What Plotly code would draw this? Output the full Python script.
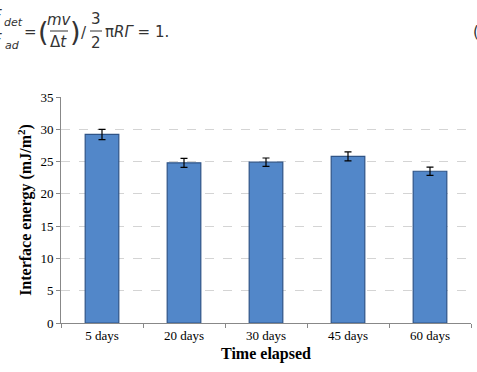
import plotly.graph_objects as go

categories = ["5 days", "20 days", "30 days", "45 days", "60 days"]
energy = [29.2, 24.8, 24.9, 25.8, 23.5]
errors = [0.8, 0.7, 0.65, 0.7, 0.65]
y_ticks = [0, 5, 10, 15, 20, 25, 30, 35]

fig = go.Figure()
fig.add_trace(go.Bar(
    x=categories, y=energy,
    marker=dict(color="#5287c9", line=dict(color="#2f5487", width=1.2)),
    error_y=dict(type="data", array=errors, visible=True, color="black", thickness=1.2, width=3.5),
    width=0.41,
))

serif = "Liberation Serif, Times New Roman, serif"
fig.update_layout(
    width=477, height=372,
    margin=dict(l=61, r=6, t=97, b=49),
    paper_bgcolor="white", plot_bgcolor="white",
    showlegend=False,
    font=dict(family=serif, size=13, color="black"),
    xaxis=dict(
        showline=True, linecolor="#888888", linewidth=1,
        ticks="outside", tickson="boundaries", ticklen=4, tickcolor="#888888",
        tickfont=dict(family=serif, size=13),
        title=dict(text="<b>Time elapsed</b>", font=dict(family=serif, size=16), standoff=6),
    ),
    yaxis=dict(
        range=[0, 35], tickvals=y_ticks,
        showline=True, linecolor="#888888", linewidth=1,
        ticks="outside", ticklen=4, tickcolor="#888888",
        showgrid=True, gridcolor="#d4d4d4", griddash="dash", gridwidth=1,
        zeroline=False,
        tickfont=dict(family=serif, size=13),
        title=dict(text="<b>Interface energy (mJ/m<sup>2</sup>)</b>", font=dict(family=serif, size=16), standoff=4),
    ),
)

# equation text above the chart
ec = "#333333"
eq_font = dict(family="DejaVu Sans, sans-serif", size=15, color=ec)
eq_small = dict(family="DejaVu Sans, sans-serif", size=11, color=ec)
paren = dict(family="DejaVu Sans, sans-serif", size=27, color=ec)

def px(xp):
    return (xp - 61) / (477 - 61 - 6)
def py(yp):
    return (372 - 49 - yp) / (372 - 97 - 49)

def ann(x, y, text, font, xanchor="center"):
    fig.add_annotation(xref="paper", yref="paper", x=px(x), y=py(y), text=text, showarrow=False,
                       font=font, xanchor=xanchor, yanchor="middle")

ann(4, 16, "<i>F</i>", eq_font, "right")
ann(13, 23, "<i>det</i>", eq_small)
ann(4, 40, "<i>F</i>", eq_font, "right")
ann(12, 46, "<i>ad</i>", eq_small)
ann(30, 32, "=", eq_font)
ann(43, 31, "(", paren)
ann(59, 20, "<i>mv</i>", eq_font)
ann(58, 42, "Δ<i>t</i>", eq_font)
ann(75, 31, ")", paren)
ann(84, 33, "/", eq_font)
ann(96, 19, "3", eq_font)
ann(96, 43, "2", eq_font)
ann(103, 32, "π<i>RΓ</i> = 1.", eq_font, "left")
ann(471, 32, "(", eq_font, "left")
fig.add_shape(type="line", xref="paper", yref="paper", x0=px(50), x1=px(68), y0=py(31), y1=py(31),
              line=dict(color=ec, width=1))
fig.add_shape(type="line", xref="paper", yref="paper", x0=px(90), x1=px(102), y0=py(31), y1=py(31),
              line=dict(color=ec, width=1))

fig.write_html("out.html")
